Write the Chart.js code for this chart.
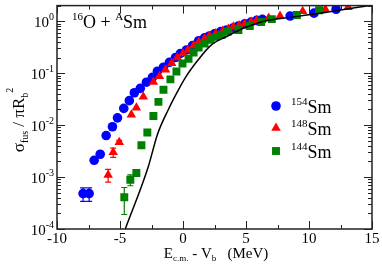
<!DOCTYPE html>
<html><head><meta charset="utf-8">
<script src="https://cdn.jsdelivr.net/npm/chart.js@4/dist/chart.umd.min.js"></script>
<style>html,body{margin:0;padding:0;background:#fff}#wrap{width:382px;height:267px}</style>
</head><body><div id="wrap"><canvas id="c" width="382" height="267"></canvas></div>
<script>
// ---- data ----
const sm154X = [-7.93,-7.45,-7.05,-6.57,-6.1,-5.6,-5.2,-4.7,-4.26,-3.86,-3.39,-2.9,-2.43,-2.03,-1.55,-1.08,-0.6,-0.2,0.28,0.76,1.24,1.71,2.1,2.5,3.0,3.47,3.95,4.4,4.9,5.4,5.85,6.3,8.5,10.4,12.15];
const sm154Y = [4.8e-4,4.8e-4,2.1e-3,2.75e-3,6.3e-3,9.3e-3,0.0138,0.021,0.0296,0.042,0.051,0.067,0.083,0.109,0.13,0.162,0.2,0.24,0.28,0.34,0.42,0.48,0.52,0.57,0.63,0.68,0.74,0.81,0.89,0.96,1.04,1.09,1.26,1.43,1.7];
const sm154Err = [1.4e-4,1.4e-4,1.5e-4,1.5e-4,2e-4];

const sm148X = [-5.94,-5.54,-5.06,-4.1,-3.7,-3.15,-2.35,-1.87,-1.39,-0.9,-0.45,0.0,0.4,0.85,1.25,1.7,2.1,2.6,3.15,3.6,4.0,4.45,4.9,5.4,5.86,6.8,7.7,9.5,11.3,13.1];
const sm148Y = [1.1e-3,3.0e-3,4.7e-3,0.0158,0.0215,0.035,0.068,0.087,0.117,0.155,0.2,0.24,0.28,0.34,0.40,0.46,0.52,0.58,0.65,0.71,0.78,0.83,0.89,0.97,1.05,1.15,1.26,1.55,1.7,1.86];
const sm148Err = [3.0e-4,6.0e-4,4e-4];

const sm144X = [-4.66,-4.18,-3.7,-3.3,-2.83,-2.35,-1.95,-1.55,-1.0,-0.52,-0.04,0.44,0.84,1.24,1.71,2.2,2.6,3.07,3.55,4.4,5.3,6.2,7.05,9.04,10.8];
const sm144Y = [4.1e-4,8.9e-4,1.2e-3,4.1e-3,7.2e-3,0.015,0.028,0.048,0.076,0.108,0.154,0.19,0.25,0.31,0.37,0.44,0.5,0.55,0.63,0.68,0.81,0.97,1.1,1.32,1.63];
const sm144Err = [2.2e-4,2.1e-4,1.2e-4];

const theoryX = [-4.58,-2.75,-2.03,-1.16,-0.44,0.2,1.16,2.19,3.55,4.82,6.41,8.65,11.27,15];
const theoryY = [1e-4,1.6e-3,6.6e-3,0.02,0.044,0.083,0.175,0.34,0.52,0.74,1.0,1.2,1.48,2.04];

const xTicks = [-10,-5,0,5,10,15];
const xMinorTicks = [-7.5,-2.5,2.5,7.5,12.5];
const yTickExps = [-4,-3,-2,-1,0];
const seriesMass = ['154','148','144'];
const seriesColors = ['#0000ff','#ff0000','#008000'];

const FONT = "'Liberation Serif','Times New Roman',serif";
const pts = (X,Y)=>X.map((v,i)=>({x:v,y:Y[i]}));

function drawParts(ctx, parts, x, y, align){
  // parts: [text, size, dy]
  let w=0;
  parts.forEach(p=>{ctx.font=p[1]+'px '+FONT; w+=ctx.measureText(p[0]).width;});
  let cx = align==='center'? x-w/2 : align==='right'? x-w : x;
  ctx.textAlign='left'; ctx.textBaseline='alphabetic';
  parts.forEach(p=>{ctx.font=p[1]+'px '+FONT; ctx.fillText(p[0],cx,y+(p[2]||0)); cx+=ctx.measureText(p[0]).width;});
  return w;
}

const errSets = [
  {X:sm154X,Y:sm154Y,E:sm154Err,c:seriesColors[0]},
  {X:sm148X,Y:sm148Y,E:sm148Err,c:seriesColors[1]},
  {X:sm144X,Y:sm144Y,E:sm144Err,c:seriesColors[2]}
];

const deco = {
  id:'deco',
  beforeDatasetsDraw(chart){
    const {ctx,chartArea:a,scales:{x,y}} = chart;
    ctx.save();
    ctx.beginPath(); ctx.rect(a.left,a.top,a.right-a.left,a.bottom-a.top); ctx.clip();
    ctx.lineWidth=1.2;
    errSets.forEach(s=>{
      ctx.strokeStyle=s.c;
      s.E.forEach((e,i)=>{
        if(!e) return;
        const px=x.getPixelForValue(s.X[i]);
        const lo=Math.max(s.Y[i]-e,1e-5);
        const y1=y.getPixelForValue(s.Y[i]+e), y2=y.getPixelForValue(lo);
        ctx.beginPath();
        ctx.moveTo(px,y1);ctx.lineTo(px,y2);
        ctx.moveTo(px-3,y1);ctx.lineTo(px+3,y1);
        ctx.moveTo(px-3,y2);ctx.lineTo(px+3,y2);
        ctx.stroke();
      });
    });
    ctx.restore();
  },
  afterDraw(chart){
    const {ctx,chartArea:a,scales:{x,y}} = chart;
    ctx.save();
    ctx.strokeStyle='#222'; ctx.lineWidth=1.5;
    ctx.strokeRect(a.left,a.top,a.right-a.left,a.bottom-a.top);
    ctx.lineWidth=1;
    ctx.beginPath();
    const tick=(x1,y1,x2,y2)=>{ctx.moveTo(x1,y1);ctx.lineTo(x2,y2);};
    xTicks.forEach(v=>{const p=Math.round(x.getPixelForValue(v))+0.5; tick(p,a.bottom,p,a.bottom-8); tick(p,a.top,p,a.top+8);});
    xMinorTicks.forEach(v=>{const p=Math.round(x.getPixelForValue(v))+0.5; tick(p,a.bottom,p,a.bottom-4); tick(p,a.top,p,a.top+4);});
    yTickExps.forEach(e=>{
      const p=Math.round(y.getPixelForValue(Math.pow(10,e)))+0.5;
      tick(a.left,p,a.left+8,p); tick(a.right,p,a.right-8,p);
      for(let k=2;k<=9;k++){
        const v=k*Math.pow(10,e); if(v>y.max) break;
        const q=Math.round(y.getPixelForValue(v))+0.5;
        tick(a.left,q,a.left+4,q); tick(a.right,q,a.right-4,q);
      }
    });
    ctx.stroke();
    ctx.fillStyle='#000';
    // x tick labels
    ctx.font='15px '+FONT; ctx.textAlign='center'; ctx.textBaseline='alphabetic';
    xTicks.forEach(v=>{ctx.fillText(String(v),x.getPixelForValue(v),a.bottom+14);});
    // y tick labels
    yTickExps.forEach(e=>{
      const p=y.getPixelForValue(Math.pow(10,e));
      drawParts(ctx,[['10',15,0],[String(e).replace('-','-'),10,-7]],a.left-3,p+6,'right');
    });
    // x title
    drawParts(ctx,[['E',15,0],['c.m.',9,3],[' - V',15,0],['b',9,3],['   (MeV)',15,0]],216,a.bottom+29,'center');
    // y title
    ctx.save();
    ctx.translate(24,120); ctx.rotate(-Math.PI/2);
    drawParts(ctx,[['σ',17,0],['fus',10,4],[' / πR',17,0],['b',10,4],['2',10,-11]],0,0,'center');
    ctx.restore();
    // annotation
    drawParts(ctx,[['16',11,-8],['O + ',18,0],['A',11,-8],['Sm',18,0]],a.left+15,28,'left');
    // legend
    const ly=[106,128,151];
    chart.data.datasets.slice(0,3).forEach((ds,i)=>{
      ctx.fillStyle=ds.backgroundColor;
      Chart.helpers.drawPoint(ctx,{pointStyle:ds.pointStyle,radius:ds.pointRadius,borderWidth:0},276,ly[i]);
      ctx.fillStyle='#000';
      drawParts(ctx,[[seriesMass[i],11,-8],['Sm',18,0]],291,ly[i]+7,'left');
    });
    ctx.restore();
  }
};

new Chart(document.getElementById('c'),{
  type:'scatter',
  data:{datasets:[
    {label:'154Sm',data:pts(sm154X,sm154Y),pointStyle:'circle',pointRadius:4.8,backgroundColor:seriesColors[0],borderWidth:0,order:3},
    {label:'148Sm',data:pts(sm148X,sm148Y),pointStyle:'triangle',pointRadius:5.5,backgroundColor:seriesColors[1],borderWidth:0,order:2},
    {label:'144Sm',data:pts(sm144X,sm144Y),pointStyle:'rect',pointRadius:5.6,backgroundColor:seriesColors[2],borderWidth:0,order:1},
    {label:'theory',type:'line',data:pts(theoryX,theoryY),showLine:true,pointRadius:0,borderColor:'#000',borderWidth:1.5,cubicInterpolationMode:'monotone',fill:false,order:0}
  ]},
  options:{
    responsive:false,animation:false,devicePixelRatio:1,
    layout:{padding:{left:57,top:2,right:10,bottom:38}},
    plugins:{legend:{display:false},tooltip:{enabled:false}},
    scales:{
      x:{type:'linear',min:-10,max:15,display:false},
      y:{type:'logarithmic',min:1e-4,max:2,display:false}
    }
  },
  plugins:[deco]
});
</script></body></html>
